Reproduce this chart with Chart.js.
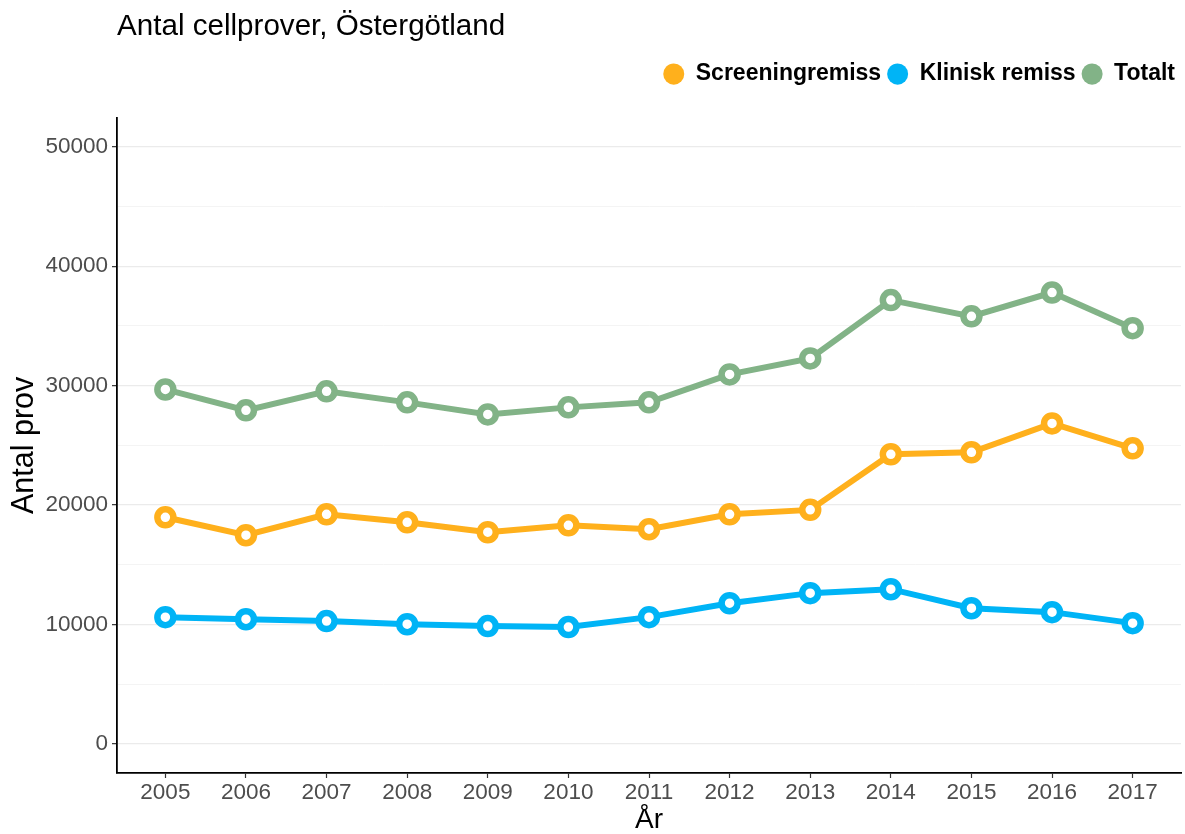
<!DOCTYPE html>
<html>
<head>
<meta charset="utf-8">
<script src="https://cdn.jsdelivr.net/npm/chart.js@4.4.1/dist/chart.umd.min.js"></script>
<style>
html,body{margin:0;padding:0;background:#fff;}
#wrap{width:1185px;height:834px;position:relative;}
</style>
</head>
<body>
<div id="wrap"><canvas id="c" width="1185" height="834"></canvas></div>
<script>
const years = [2005,2006,2007,2008,2009,2010,2011,2012,2013,2014,2015,2016,2017];
const screening = [18980,17480,19230,18560,17730,18310,17980,19230,19600,24250,24420,26840,24750];
const klinisk = [10620,10450,10290,10030,9870,9790,10620,11790,12630,12960,11370,11040,10120];
const totalt = [29680,27930,29520,28600,27590,28180,28600,30940,32280,37160,35800,37790,34810];
const yGridValues = [0,5000,10000,15000,20000,25000,30000,35000,40000,45000,50000];
const yTickLabels = [0,10000,20000,30000,40000,50000];
const seriesNames = ['Screeningremiss','Klinisk remiss','Totalt'];
const seriesColors = ['#ffb01c','#00b4f6','#82b387'];

const FONT = "'Liberation Sans', Arial, Helvetica, sans-serif";

function pts(vals){ return years.map((yr,i)=>({x:yr, y:vals[i]})); }
function ds(name, vals, color){
  return {
    label:name, data:pts(vals), borderColor:color, backgroundColor:color,
    borderWidth:6, pointRadius:8, pointHoverRadius:8, pointBorderWidth:6.5,
    pointBackgroundColor:'#ffffff', pointBorderColor:color, tension:0
  };
}

new Chart(document.getElementById('c'), {
  type:'line',
  data:{ datasets:[
    ds(seriesNames[0], screening, seriesColors[0]),
    ds(seriesNames[1], klinisk, seriesColors[1]),
    ds(seriesNames[2], totalt, seriesColors[2])
  ]},
  options:{
    responsive:false, animation:false, devicePixelRatio:1,
    layout:{ autoPadding:false, padding:{left:0, right:4, top:0, bottom:0} },
    plugins:{
      tooltip:{enabled:false},
      title:{ display:true, text:'Antal cellprover, Östergötland', align:'start', fullSize:false,
        color:'#000', font:{family:FONT, size:29.6, weight:'normal'}, padding:{top:9,bottom:12} },
      subtitle:{ display:true, text:' ', weight:500, fullSize:false,
        font:{family:FONT, size:1}, padding:{top:0,bottom:21} },
      legend:{ position:'top', align:'end', fullSize:false,
        labels:{ usePointStyle:true, pointStyle:'circle', boxHeight:15, pointStyleWidth:21,
          padding:6, color:'#000', font:{family:FONT, size:23, weight:'bold'},
          generateLabels:(chart)=>{
            return chart.data.datasets.map((d,i)=>({
              text:d.label, fillStyle:seriesColors[i], strokeStyle:seriesColors[i],
              lineWidth:0, pointStyle:'circle', hidden:false, datasetIndex:i, fontColor:'#000'
            }));
          }
        }
      }
    },
    scales:{
      x:{ type:'linear', min:2004.4, max:2017.6,
        afterBuildTicks:(s)=>{ s.ticks = years.map(v=>({value:v})); },
        afterFit:(s)=>{ s.height = 61; s.paddingLeft = 0; s.paddingRight = 0; },
        ticks:{ callback:(v)=>String(v), color:'#4d4d4d', font:{family:FONT, size:22.5}, padding:1, maxRotation:0, autoSkip:false },
        grid:{ drawOnChartArea:false, drawTicks:true, tickLength:5, tickColor:'#333', tickWidth:1.2 },
        border:{ display:true, color:'#000', width:1.8 },
        title:{ display:true, text:'År', color:'#000', font:{family:FONT, size:28, lineHeight:1.0}, padding:{top:0,bottom:0} }
      },
      y:{ type:'linear', min:-2425, max:52425,
        afterBuildTicks:(s)=>{ s.ticks = yGridValues.map(v=>({value:v})); },
        afterFit:(s)=>{ s.width = 117; s.paddingTop = 0; s.paddingBottom = 0; },
        ticks:{ callback:(v)=> yTickLabels.includes(v) ? String(v) : '', color:'#4d4d4d', font:{family:FONT, size:22.5}, padding:4, autoSkip:false },
        grid:{ drawTicks:true, tickLength:5,
          color:(c)=> (c.tick && yTickLabels.includes(c.tick.value)) ? '#ebebeb' : '#f4f4f4',
          lineWidth:(c)=> (c.tick && yTickLabels.includes(c.tick.value)) ? 1.3 : 1,
          tickColor:(c)=> (c.tick && yTickLabels.includes(c.tick.value)) ? '#333' : 'rgba(0,0,0,0)',
          tickWidth:1.2 },
        border:{ display:true, color:'#000', width:1.8 },
        title:{ display:true, text:'Antal prov', color:'#000', font:{family:FONT, size:30.5}, padding:{top:6,bottom:0} }
      }
    }
  }
});
</script>
</body>
</html>
